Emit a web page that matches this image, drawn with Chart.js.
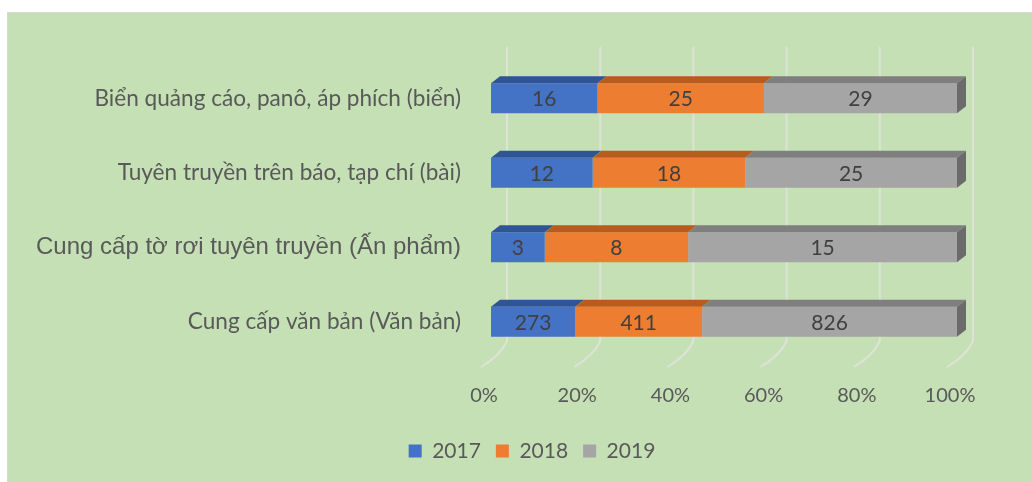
<!DOCTYPE html>
<html><head><meta charset="utf-8">
<script src="https://cdn.jsdelivr.net/npm/chart.js@4.4.1/dist/chart.umd.min.js"></script>
<style>
html,body{margin:0;padding:0;background:#fff;width:1032px;height:482px;overflow:hidden}
#bg{position:absolute;left:7px;top:12px;width:1025px;height:470px;background:#C5E0B4;border-left:1px solid #d6d6d6;border-top:1px solid #d6d6d6;box-sizing:border-box}
#c{position:absolute;left:0;top:0}
</style></head><body>
<div id="bg"></div>
<canvas id="c" width="1032" height="482"></canvas>
<script>
const categories = ["Biển quảng cáo, panô, áp phích (biển)", "Tuyên truyền trên báo, tạp chí (bài)", "Cung cấp tờ rơi tuyên truyền (Ấn phẩm)", "Cung cấp văn bản (Văn bản)"];
const seriesNames = ["2017", "2018", "2019"];
const values2017 = [16, 12, 3, 273];
const values2018 = [25, 18, 8, 411];
const values2019 = [29, 25, 15, 826];
const xTickValues = [0, 20, 40, 60, 80, 100];

const frontColors = ["#4472C4", "#ED7D31", "#A5A5A5"];
const topColors = ["#2F5597", "#BA5B1E", "#7F7F7F"];
const endColor = "#6B6B6B";

const rawSeries = [values2017, values2018, values2019];
const totals = categories.map((_, i) => rawSeries.reduce((s, arr) => s + arr[i], 0));
const pct = arr => arr.map((v, i) => v / totals[i] * 100);

const depthPlugin = {
  id: 'depth3d',
  beforeDraw(chart) {
    // centre the legend row like the reference
    if (chart.legend) { chart.legend.left = 107; }
  },
  beforeDatasetsDraw(chart) {
    const ctx = chart.ctx, xs = chart.scales.x, a = chart.chartArea;
    ctx.save();
    ctx.strokeStyle = 'rgba(222,226,216,1)';
    ctx.lineWidth = 2;
    xTickValues.forEach(v => {
      const x = xs.getPixelForValue(v) + 16;
      ctx.beginPath();
      ctx.moveTo(x, a.top - 14);
      ctx.lineTo(x, a.bottom - 18);
      ctx.quadraticCurveTo(x - 6, a.bottom - 4, x - 26, a.bottom + 8);
      ctx.stroke();
    });
    ctx.restore();
  },
  afterDatasetsDraw(chart) {
    const ctx = chart.ctx, dx = 9, dy = 7;
    ctx.save();
    const n = chart.data.datasets.length;
    chart.data.datasets.forEach((ds, di) => {
      const meta = chart.getDatasetMeta(di);
      meta.data.forEach((bar, i) => {
        const p = bar.getProps(['x', 'y', 'base', 'height'], true);
        const top = p.y - p.height / 2, bottom = p.y + p.height / 2;
        const l = Math.min(p.base, p.x), r = Math.max(p.base, p.x);
        ctx.fillStyle = topColors[di];
        ctx.beginPath();
        ctx.moveTo(l, top); ctx.lineTo(r, top); ctx.lineTo(r + dx, top - dy); ctx.lineTo(l + dx, top - dy);
        ctx.closePath(); ctx.fill();
        if (di === n - 1) {
          ctx.fillStyle = endColor;
          ctx.beginPath();
          ctx.moveTo(r, top); ctx.lineTo(r + dx, top - dy); ctx.lineTo(r + dx, bottom - dy); ctx.lineTo(r, bottom);
          ctx.closePath(); ctx.fill();
        }
        ctx.fillStyle = '#404040';
        ctx.font = '21px Lato';
        ctx.textAlign = 'center';
        ctx.textBaseline = 'middle';
        ctx.fillText(String(ds.rawValues[i]), (l + r) / 2, p.y + 1);
      });
    });
    ctx.restore();
  }
};

new Chart(document.getElementById('c'), {
  type: 'bar',
  data: {
    labels: categories,
    datasets: seriesNames.map((name, k) => ({
      label: name,
      data: pct(rawSeries[k]),
      rawValues: rawSeries[k],
      backgroundColor: frontColors[k],
      borderWidth: 0,
      categoryPercentage: 1,
      barPercentage: 0.4
    }))
  },
  options: {
    indexAxis: 'y',
    responsive: false,
    animation: false,
    layout: { padding: { left: 0, right: 75, top: 61, bottom: 10.5 } },
    plugins: {
      tooltip: { enabled: false },
      legend: {
        position: 'bottom',
        labels: { boxWidth: 13, boxHeight: 13, padding: 15, color: '#595959', font: { family: 'Lato', size: 21 } }
      }
    },
    scales: {
      x: {
        stacked: true, min: 0, max: 100,
        afterBuildTicks(s) { s.ticks = xTickValues.map(v => ({ value: v })); },
        afterFit(s) { s.height = 66.5; },
        grid: { display: false, drawTicks: false },
        border: { display: false },
        ticks: { padding: 25, labelOffset: -7, color: '#595959', font: { family: 'Lato', size: 20 }, callback: v => v + '%' }
      },
      y: {
        stacked: true,
        afterFit(s) { s.width = 491; },
        grid: { display: false, drawTicks: false },
        border: { display: false },
        ticks: {
          padding: 30, color: '#595959',
          font: c => c.index === 2 ? { family: '"Liberation Sans", Arial, sans-serif', size: 24 } : { family: 'Lato', size: 22.6 }
        }
      }
    }
  },
  plugins: [depthPlugin]
});
</script>
</body></html>
